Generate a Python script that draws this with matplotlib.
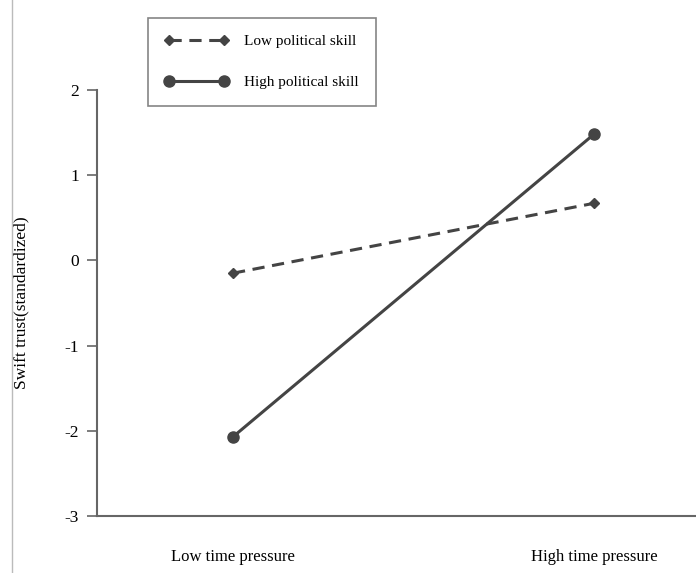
import matplotlib
matplotlib.use("Agg")
import matplotlib.pyplot as plt
from matplotlib.lines import Line2D

categories = ["Low time pressure", "High time pressure"]
low_skill = [-0.15, 0.67]
high_skill = [-2.07, 1.48]
yticks = [-3, -2, -1, 0, 1, 2]

plt.rcParams['font.family'] = ['Liberation Serif', 'DejaVu Serif']

fig = plt.figure(figsize=(6.96, 5.73), dpi=100)
ax = fig.add_axes([97/696, 1-516/573, 1-97/696, (516-90)/573])

xs = [0, 1]
line_col = '#444444'
ax.plot(xs, low_skill, linestyle=(0, (4, 2.5)), color=line_col, lw=2.2,
        marker='D', markersize=5, label='Low political skill')
ax.plot(xs, high_skill, linestyle='-', color=line_col, lw=2.2,
        marker='o', markersize=8, label='High political skill')

ax.set_xlim(-0.377, 1.283)
ax.set_ylim(-3, 2)
ax.set_yticks(yticks)
ax.set_yticklabels([str(v) for v in yticks], fontsize=12.5)
ax.set_xticks(xs)
ax.set_xticklabels(categories, fontsize=12)
ax.tick_params(axis='x', length=0, pad=24)
ax.tick_params(axis='y', length=7, width=1.2, color='#666666', pad=6)
for s in ['top', 'right']:
    ax.spines[s].set_visible(False)
for s in ['left', 'bottom']:
    ax.spines[s].set_color('#666666')
    ax.spines[s].set_linewidth(1.5)
ax.set_ylabel('Swift trust(standardized)', fontsize=12.5, labelpad=25)

leg = fig.legend(loc='upper left', bbox_to_anchor=(148/696, 1-18/573),
                 fontsize=11, frameon=True, fancybox=False, edgecolor='#666666',
                 handlelength=4.2, numpoints=2, borderpad=1.1, labelspacing=1.75,
                 borderaxespad=0, handletextpad=1.0)
leg.get_frame().set_linewidth(1.2)

fig.add_artist(Line2D([12/696, 12/696], [0, 1], transform=fig.transFigure,
                      color='#bbbbbb', lw=1))

fig.savefig('out.png', dpi=100)
